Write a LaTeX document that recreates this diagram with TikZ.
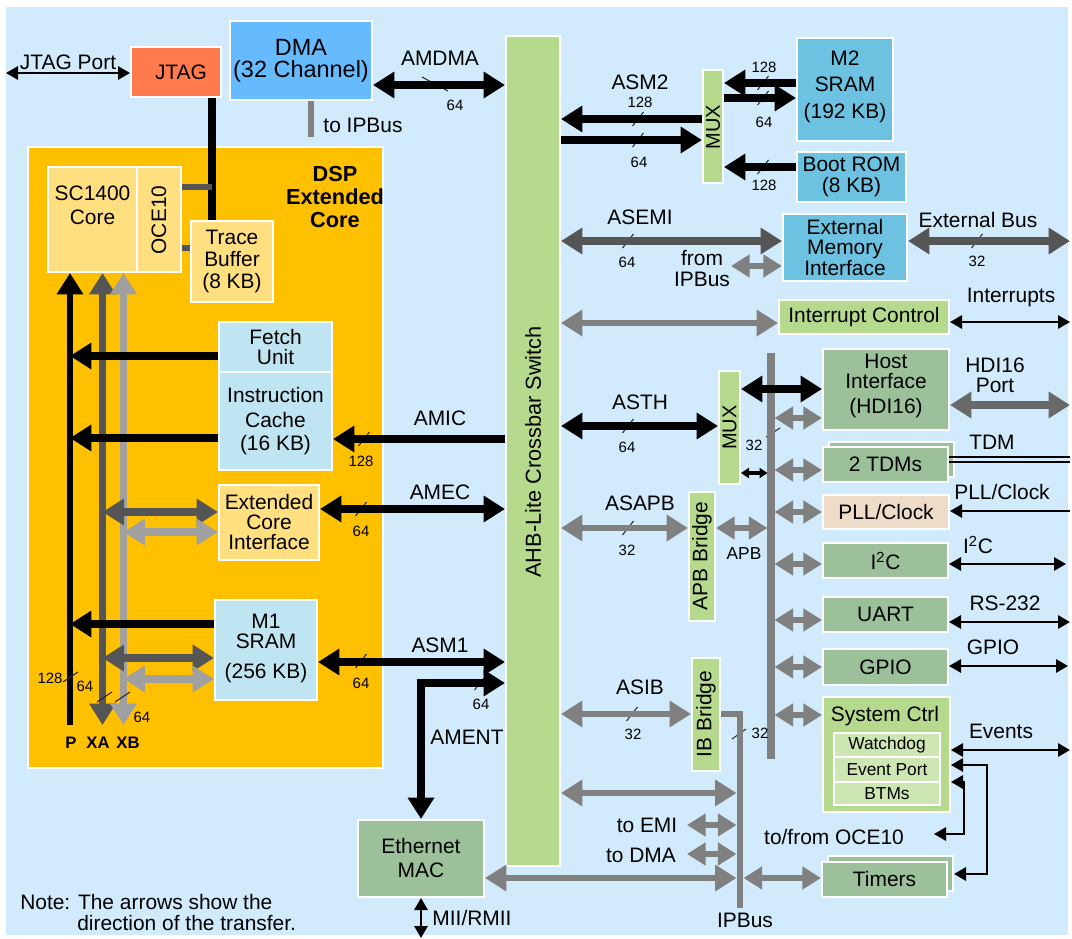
\documentclass[tikz,border=0pt]{standalone}
\usepackage{fontspec}
\setmainfont{Liberation Sans}
\usetikzlibrary{arrows.meta}
\definecolor{bgc}{RGB}{209,234,252}
\definecolor{jtagc}{RGB}{255,122,76}
\definecolor{dmac}{RGB}{102,187,255}
\definecolor{dspc}{RGB}{255,192,0}
\definecolor{corec}{RGB}{255,223,128}
\definecolor{lbc}{RGB}{191,228,242}
\definecolor{grc}{RGB}{181,218,142}
\definecolor{memc}{RGB}{108,194,224}
\definecolor{sagec}{RGB}{155,192,154}
\definecolor{peachc}{RGB}{239,220,200}
\definecolor{innerc}{RGB}{206,231,178}
\definecolor{dgray}{RGB}{85,85,85}
\definecolor{hgray}{RGB}{105,105,105}
\definecolor{mgray}{RGB}{128,128,128}
\definecolor{lgray}{RGB}{160,160,160}
\newcommand\fmain{\fontsize{15.7}{16.5}\selectfont}
\newcommand\fsmall{\fontsize{11.2}{12}\selectfont}
\newcommand\fmid{\fontsize{13}{14}\selectfont}
\newcommand\mkbox[7]{\node[#6,minimum width={(#4-#2)*0.75pt},minimum height={(#5-#3)*0.75pt}] (#1) at ({(#2+#4)/2},{(#3+#5)/2}) {#7};}
\newcommand\slsh[2]{\draw[sl] ({#1-5.5},{#2+7}) -- ({#1+5.5},{#2-7});}
\tikzset{
  bigtip/.tip={Triangle[length=16pt,width=19pt]},
  graytip/.tip={Triangle[length=14pt,width=16.5pt]},
  thintip/.tip={Triangle[length=9pt,width=10pt]},
  smalltip/.tip={Triangle[length=6pt,width=7.5pt]},
  boxs/.style={draw=white,line width=1.5pt,inner sep=0pt,align=center,font=\fmain},
  lbl/.style={inner sep=0pt,align=center,font=\fmain},
  num/.style={inner sep=0pt,font=\fsmall},
  bk/.style={line width=6pt,draw=black},
  gy/.style={line width=4.8pt,draw=mgray},
  dg/.style={line width=5.3pt,draw=dgray},
  lg/.style={line width=5.3pt,draw=lgray},
  th/.style={line width=1.5pt,draw=black},
  sl/.style={line width=0.75pt,draw=black!85},
}
\begin{document}
\begin{tikzpicture}[x=0.75pt,y=-0.75pt]
\useasboundingbox (0,0) rectangle (1072,939);
\fill[white] (0,0) rectangle (1072,939);
\fill[bgc] (6,7) rectangle (1068,935);
% ---------------- boxes ----------------
\mkbox{dsp}{28}{147}{383}{768}{boxs,fill=dspc}{}
\node[lbl,font=\fontsize{16.3}{17.6}\selectfont\bfseries] (dspt) at (335,197) {DSP\\Extended\\Core};
\mkbox{jtag}{131}{47}{221}{97}{boxs,fill=jtagc}{\hspace*{7.5pt}JTAG}
\mkbox{dma}{230}{21}{372}{100}{boxs,fill=dmac,font=\fontsize{17.6}{16.5}\selectfont}{DMA\\(32 Channel)}
\mkbox{core}{48}{167}{137}{272}{boxs,fill=corec}{}
\node[lbl] (coret) at (92.5,205) {SC1400\\[1.5pt]Core};
\mkbox{oce}{137}{167}{181}{272}{boxs,fill=corec}{}
\node[lbl,rotate=90] (ocet) at (159,220) {OCE10};
\mkbox{trace}{191}{221}{273}{302}{boxs,fill=corec}{Trace\\Buffer\\(8 KB)}
\mkbox{fetch}{219}{322}{332}{372}{boxs,fill=lbc}{Fetch\\[-1.5pt]Unit}
\mkbox{icache}{219}{372}{332}{470}{boxs,fill=lbc}{Instruction\\[2.2pt]Cache\\[0.8pt](16 KB)}
\mkbox{eci}{219}{485}{319}{560}{boxs,fill=corec}{Extended\\[-1.5pt]Core\\[-1.5pt]Interface}
\mkbox{m1}{215}{600}{317}{700}{boxs,fill=lbc}{}
\node[lbl] (m1t) at (266,648) {M1\\[-1.5pt]SRAM\\[6pt](256 KB)};
\mkbox{eth}{358}{820}{484}{897}{boxs,fill=sagec}{Ethernet\\[1.5pt]MAC}
\mkbox{xbar}{506}{36}{560}{866}{boxs,fill=grc}{}
\node[lbl,rotate=90,font=\fontsize{16.3}{17}\selectfont] (xbart) at (533,452) {AHB-Lite Crossbar Switch};
\mkbox{m2}{797}{38}{893}{141}{boxs,fill=memc}{}
\node[lbl] (m2t) at (845,86.5) {M2\\[3pt]SRAM\\[3.7pt](192 KB)};
\mkbox{rom}{797}{152}{906}{202}{boxs,fill=memc}{Boot ROM\\[-0.7pt](8 KB)}
\mkbox{mux1}{703}{70}{723}{183}{boxs,fill=grc}{}
\node[lbl,rotate=90,font=\fontsize{15}{16}\selectfont] (mux1t) at (713,127) {MUX};
\mkbox{emi}{783}{214}{907}{281}{boxs,fill=memc}{External\\[-1.1pt]Memory\\[-1.1pt]Interface}
\mkbox{intc}{779}{300}{949}{334}{boxs,fill=grc}{Interrupt Control}
\mkbox{host}{823}{349}{949}{430}{boxs,fill=sagec}{}
\node[lbl] (hostt) at (886,385.5) {Host\\[-1.5pt]Interface\\[2.2pt](HDI16)};
\mkbox{mux2}{719}{371}{740}{484}{boxs,fill=grc}{}
\node[lbl,rotate=90,font=\fontsize{15}{16}\selectfont] (mux2t) at (729.5,427.5) {MUX};
\mkbox{tdmb}{829}{442}{954}{477}{boxs,fill=sagec}{}
\mkbox{tdm}{823}{447}{948}{482}{boxs,fill=sagec}{2 TDMs}
\mkbox{pll}{823}{495}{949}{529}{boxs,fill=peachc}{PLL/Clock}
\mkbox{i2c}{823}{543}{948}{578}{boxs,fill=sagec}{I\textsuperscript{2}C}
\mkbox{uart}{823}{597}{948}{632}{boxs,fill=sagec}{UART}
\mkbox{gpio}{823}{649}{948}{685}{boxs,fill=sagec}{GPIO}
\mkbox{sysc}{823}{697}{950}{812}{boxs,fill=grc}{}
\node[lbl] (syst) at (885,716) {System Ctrl};
\mkbox{wd}{834}{733}{940}{757}{boxs,fill=innerc,font=\fmid}{Watchdog}
\mkbox{ep}{834}{757}{940}{782}{boxs,fill=innerc,font=\fmid}{Event Port}
\mkbox{btm}{834}{782}{940}{805}{boxs,fill=innerc,font=\fmid}{BTMs}
\mkbox{timersb}{828}{856}{953}{891}{boxs,fill=sagec}{}
\mkbox{timers}{822}{862}{947}{897}{boxs,fill=sagec}{Timers}
\mkbox{apb}{689}{492}{715}{621}{boxs,fill=grc}{}
\node[lbl,rotate=90] (apbt) at (702,556) {APB Bridge};
\mkbox{ib}{692}{658}{720}{771}{boxs,fill=grc}{}
\node[lbl,rotate=90] (ibt) at (706,714) {IB Bridge};
% ---------------- helper coordinates ----------------
\coordinate (Pt) at (70,272);
\coordinate (XAt) at (102.5,272);
\coordinate (XBt) at (123.5,272);
\coordinate (barL) at (767.5,353);
\coordinate (barR) at (774.5,353);
\coordinate (ipb) at (740,908);
\coordinate (ipbL) at (736.5,908);
\coordinate (ipbR) at (743.5,908);
\coordinate (jtp) at (6,73);
\coordinate (extb) at (1070,241);
\coordinate (fip) at (731,266);
\coordinate (irq) at (1070,322);
\coordinate (hdip) at (1070,405);
\coordinate (tdmo1) at (1070,457);
\coordinate (tdmo2) at (1070,462);
\coordinate (pllin) at (1070,511);
\coordinate (i2co) at (1066,564);
\coordinate (uarto) at (1070,622);
\coordinate (gpioo) at (1068,666);
\coordinate (evo) at (1070,750);
\coordinate (oceo) at (934,834);
\coordinate (toemi) at (687,825);
\coordinate (todma) at (687,854);
\coordinate (mii) at (421,938);
\coordinate (dmastub) at (311,137);
% ---------------- bit-width slashes ----------------
\draw[sl] (422,77) -- (448,91);
\slsh{364}{439}
\slsh{361}{509}
\slsh{361}{661}
\slsh{480}{683}
\slsh{638}{119}
\slsh{638}{140}
\slsh{763}{83}
\slsh{763}{98}
\slsh{763}{167}
\slsh{628}{241}
\slsh{977}{241}
\slsh{628}{426}
\slsh{628}{528}
\slsh{632}{714}
\draw[sl] (766,437) -- (780,428);
\draw[sl] (732,739) -- (746,729);
% ---------------- buses ----------------
\draw[line width=6pt] (jtag.south -| 212,0) -- (trace.north -| 212,0);
\draw[dg,line width=5pt] (oce.east |- 0,187) -- (212,187);
\draw[dg,line width=5pt] (oce.east |- 0,248) -- (trace.west |- 0,248);
\draw[gy,line width=4.5pt] (dma.south -| dmastub) -- (dmastub);
\draw[line width=5pt,-{bigtip}] (70,725) -- (core.south -| Pt);
\draw[dg,{bigtip}-{bigtip}] (102.5,725) -- (core.south -| XAt);
\draw[lg,{bigtip}-{bigtip}] (123.5,725) -- (core.south -| XBt);
\draw[sl] (63,682) -- (78,672);
\draw[sl] (97,702) -- (112,692);
\draw[sl] (115,702) -- (130,692);
\draw[gy,line width=5.3pt] (barL |- 0,353) ++(3.5,0) -- (771,759);
% ---------------- DSP side arrows ----------------
\draw[th,{thintip}-{thintip}] (jtp) -- (jtag.west |- jtp);
\draw[bk,{bigtip}-{bigtip}] (dma.east |- 0,85) -- (xbar.west |- 0,85);
\draw[bk,-{bigtip}] (fetch.west |- 0,356) -- (Pt |- 0,356);
\draw[bk,-{bigtip}] (icache.west |- 0,438) -- (Pt |- 0,438);
\draw[bk,-{bigtip}] (xbar.west |- 0,439) -- (icache.east |- 0,439);
\draw[dg,{bigtip}-{bigtip}] (XAt |- 0,512) -- (eci.west |- 0,512);
\draw[lg,{bigtip}-{bigtip}] (XBt |- 0,532) -- (eci.west |- 0,532);
\draw[bk,{bigtip}-{bigtip}] (eci.east |- 0,509) -- (xbar.west |- 0,509);
\draw[bk,-{bigtip}] (m1.west |- 0,624) -- (Pt |- 0,624);
\draw[dg,{bigtip}-{bigtip}] (XAt |- 0,658) -- (m1.west |- 0,658);
\draw[lg,{bigtip}-{bigtip}] (XBt |- 0,679) -- (m1.west |- 0,679);
\draw[bk,{bigtip}-{bigtip}] (m1.east |- 0,662) -- (xbar.west |- 0,662);
\draw[bk,{bigtip}-{bigtip}] (eth.north) |- (xbar.west |- 0,683);
\draw[th,{thintip}-{thintip}] (eth.south) -- (mii);
% ---------------- right side arrows ----------------
\draw[bk,-{bigtip}] (mux1.west |- 0,119) -- (xbar.east |- 0,119);
\draw[bk,-{bigtip}] (xbar.east |- 0,140) -- (mux1.west |- 0,140);
\draw[bk,-{bigtip}] (m2.west |- 0,83) -- (mux1.east |- 0,83);
\draw[bk,-{bigtip}] (mux1.east |- 0,98) -- (m2.west |- 0,98);
\draw[bk,-{bigtip}] (rom.west |- 0,167) -- (mux1.east |- 0,167);
\draw[dg,{bigtip}-{bigtip}] (xbar.east |- 0,241) -- (emi.west |- 0,241);
\draw[gy,{graytip}-{graytip}] (fip) -- (emi.west |- fip);
\draw[dg,{bigtip}-{bigtip}] (emi.east |- extb) -- (extb);
\draw[gy,{bigtip}-{bigtip}] (xbar.east |- 0,323) -- (intc.west |- 0,323);
\draw[th,{thintip}-{thintip}] (intc.east |- irq) -- (irq);
\draw[bk,{bigtip}-{bigtip}] (xbar.east |- 0,426) -- (mux2.west |- 0,426);
\draw[bk,{bigtip}-{bigtip}] (mux2.east |- 0,389) -- (host.west |- 0,389);
\draw[line width=2.5pt,{smalltip}-{smalltip}] (mux2.east |- 0,473) -- (barL |- 0,473);
\foreach \n/\yy in {host/418,tdm/470,pll/512,i2c/564,uart/620,gpio/667,sysc/715}
  \draw[gy,{graytip}-{graytip}] (barR |- 0,\yy) -- (\n.west |- 0,\yy);
\draw[line width=5.3pt,draw=hgray,{bigtip}-{bigtip}] (host.east |- hdip) -- (hdip);
\draw[line width=1.3pt] (tdm.east |- tdmo1) -- (tdmo1);
\draw[line width=1.3pt] (tdm.east |- tdmo2) -- (tdmo2);
\draw[th,-{thintip}] (pllin) -- (pll.east |- pllin);
\draw[th,{thintip}-{thintip}] (i2c.east |- i2co) -- (i2co);
\draw[th,{thintip}-{thintip}] (uart.east |- uarto) -- (uarto);
\draw[th,{thintip}-{thintip}] (gpio.east |- gpioo) -- (gpioo);
\draw[th,{thintip}-{thintip}] (sysc.east |- evo) -- (evo);
\draw[th,{thintip}-{thintip}] (sysc.east |- 0,765) -| (987,874) -- (timersb.east |- 0,874);
\draw[th,{thintip}-{thintip}] (sysc.east |- 0,782) -| (964,834) -- (oceo);
\draw[gy,{bigtip}-{bigtip}] (xbar.east |- 0,528) -- (apb.west |- 0,528);
\draw[gy,{graytip}-{graytip}] (apb.east |- 0,528) -- (barL |- 0,528);
\draw[gy,{bigtip}-{bigtip}] (xbar.east |- 0,714) -- (ib.west |- 0,714);
\draw[gy,line width=5pt] (ib.east |- 0,714) -| (ipb);
\draw[gy,{bigtip}-{bigtip}] (xbar.east |- 0,793) -- (ipbL |- 0,793);
\draw[gy,{graytip}-{graytip}] (toemi) -- (ipbL |- toemi);
\draw[gy,{graytip}-{graytip}] (todma) -- (ipbL |- todma);
\draw[gy,{bigtip}-{bigtip}] (eth.east |- 0,878) -- (ipbL |- 0,878);
\draw[gy,{graytip}-{graytip}] (ipbR |- 0,878) -- (timers.west |- 0,878);
% ---------------- labels ----------------
\node[lbl] (l1) at (68,62) {JTAG Port};
\node[lbl] (l2) at (440,58) {AMDMA};
\node[num] (n1) at (455,105) {64};
\node[lbl] (l3) at (363,125) {to IPBus};
\node[lbl] (l4) at (440,418) {AMIC};
\node[num] (n2) at (361,461) {128};
\node[lbl] (l5) at (440,492) {AMEC};
\node[num] (n3) at (361,531) {64};
\node[lbl] (l6) at (440,645) {ASM1};
\node[num] (n4) at (361,683) {64};
\node[lbl] (l7) at (467,737) {AMENT};
\node[num] (n5) at (481,704) {64};
\node[num] (n6) at (50,678) {128};
\node[num] (n7) at (85,686) {64};
\node[num] (n8) at (142,717) {64};
\node[inner sep=0pt,font=\fontsize{12.5}{14}\selectfont\bfseries] (bp) at (71,743) {P};
\node[inner sep=0pt,font=\fontsize{12.5}{14}\selectfont\bfseries] (bxa) at (98,743) {XA};
\node[inner sep=0pt,font=\fontsize{12.5}{14}\selectfont\bfseries] (bxb) at (128,743) {XB};
\node[lbl,anchor=west] (note1) at (20,902) {Note: The arrows show the};
\node[lbl,anchor=west] (note2) at (77,923) {direction of the transfer.};
\node[lbl] (l8) at (472,918) {MII/RMII};
\node[lbl] (l9) at (640,82) {ASM2};
\node[num] (n9) at (640,102) {128};
\node[num] (n10) at (639,162) {64};
\node[num] (n11) at (764,67) {128};
\node[num] (n12) at (764,122) {64};
\node[num] (n13) at (764,185) {128};
\node[lbl] (l10) at (640,217) {ASEMI};
\node[num] (n14) at (627,262) {64};
\node[lbl] (l11) at (702,268.5) {from\\[-1pt]IPBus};
\node[lbl] (l12) at (978,220) {External Bus};
\node[num] (n15) at (977,261) {32};
\node[lbl] (l13) at (1011,297) {Interrupts};
\node[lbl] (l14) at (640,402) {ASTH};
\node[num] (n16) at (627,447) {64};
\node[num] (n17) at (754,445) {32};
\node[lbl] (l15) at (995,375) {HDI16\\[-1.5pt]Port};
\node[lbl] (l16) at (992,442) {TDM};
\node[lbl] (l17) at (1002,492) {PLL/Clock};
\node[lbl] (l18) at (640,503) {ASAPB};
\node[num] (n18) at (627,550) {32};
\node[inner sep=0pt,font=\fmid] (l19) at (744,554) {APB};
\node[lbl] (l20) at (978,545) {I\textsuperscript{2}C};
\node[lbl] (l21) at (1005,603) {RS-232};
\node[lbl] (l22) at (993,647) {GPIO};
\node[lbl] (l23) at (640,687) {ASIB};
\node[num] (n19) at (633,734) {32};
\node[num] (n20) at (760,733) {32};
\node[lbl] (l24) at (1001,731) {Events};
\node[lbl] (l25) at (834,837) {to/from OCE10};
\node[lbl] (l26) at (647,825) {to EMI};
\node[lbl] (l27) at (641,855) {to DMA};
\node[lbl] (l28) at (745,920) {IPBus};
\end{tikzpicture}
\end{document}
